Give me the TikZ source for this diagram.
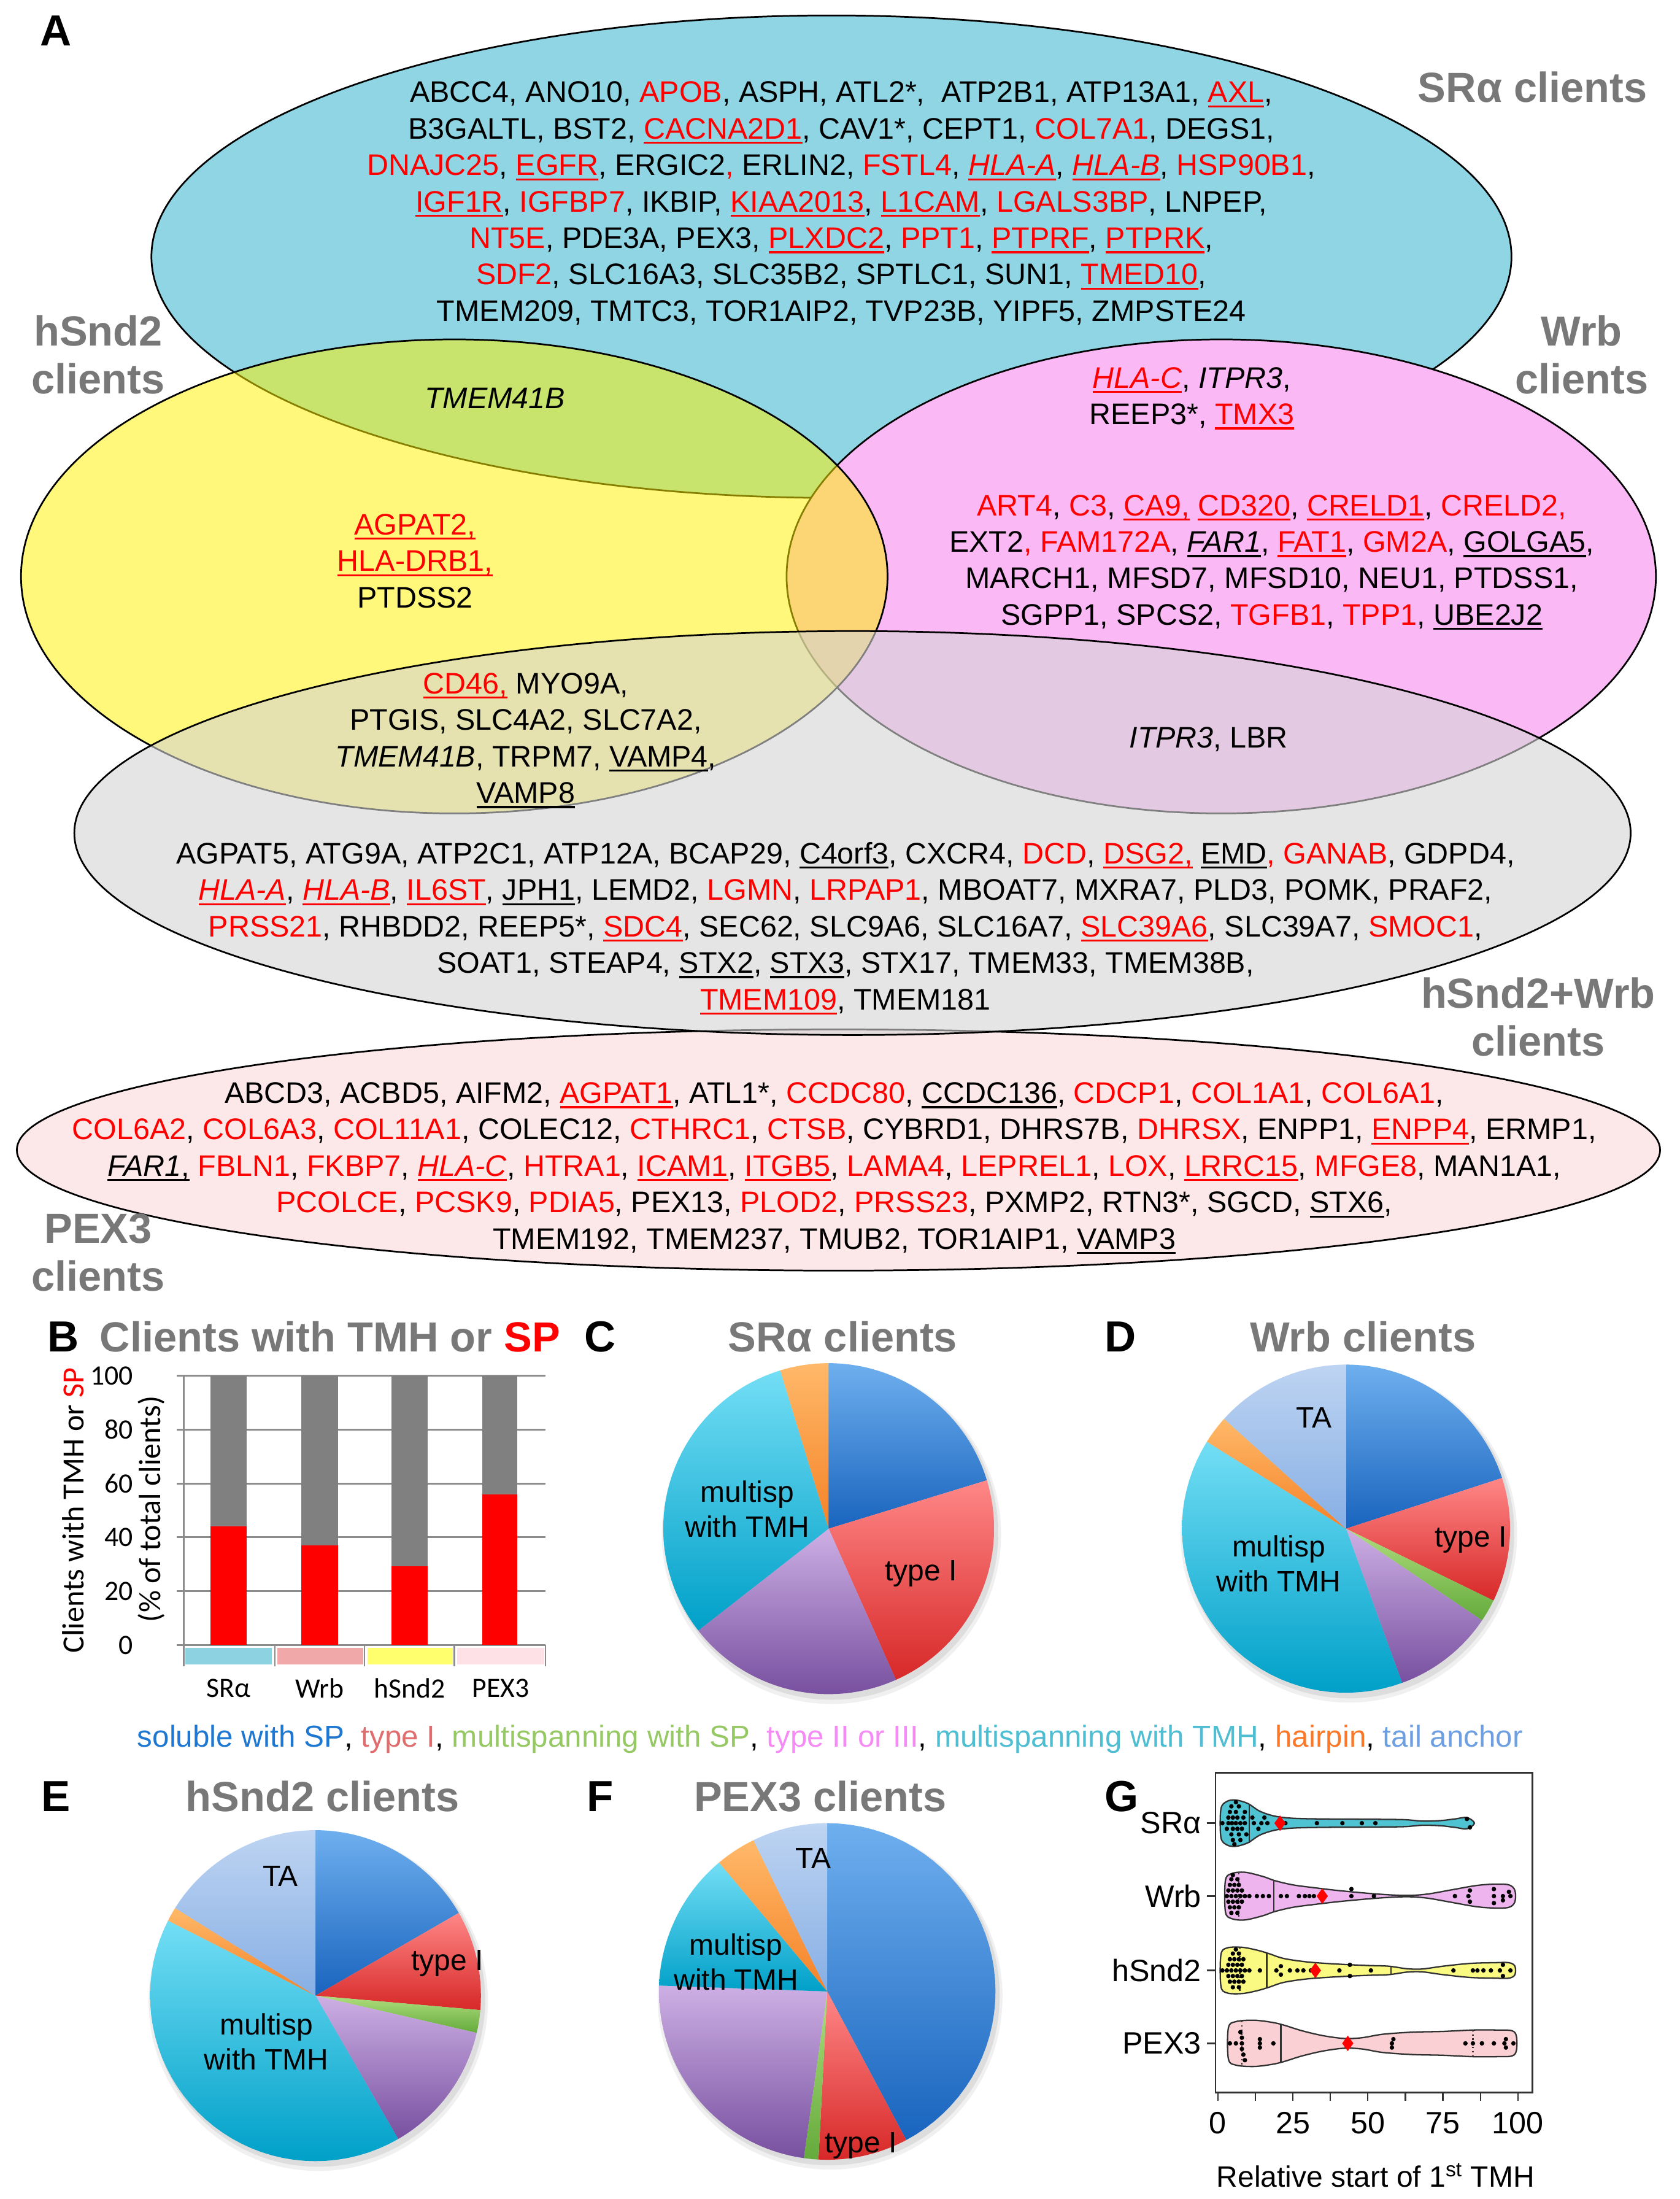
\documentclass[tikz,border=0pt]{standalone}
\usepackage{fontspec}
\setmainfont{Liberation Sans}
\newfontfamily\calfont{Carlito}
\usetikzlibrary{calc}

\definecolor{srblue}{RGB}{143,213,227}
\definecolor{wrbpink}{RGB}{250,185,245}
\definecolor{pexpink}{RGB}{253,232,233}
\definecolor{grayfill}{RGB}{212,212,212}
\definecolor{labgray}{RGB}{120,120,120}
\definecolor{gridgray}{RGB}{140,140,140}
\definecolor{bargray}{RGB}{128,128,128}
\definecolor{catcyan}{RGB}{140,210,225}
\definecolor{catsalmon}{RGB}{240,168,168}
\definecolor{catyellow}{RGB}{255,255,110}
\definecolor{catpink}{RGB}{253,225,230}
\definecolor{solL}{RGB}{110,175,238}\definecolor{solD}{RGB}{25,100,190}
\definecolor{t1L}{RGB}{255,135,135}\definecolor{t1D}{RGB}{215,40,40}
\definecolor{msL}{RGB}{175,222,125}\definecolor{msD}{RGB}{100,170,60}
\definecolor{t2L}{RGB}{205,175,228}\definecolor{t2D}{RGB}{120,80,160}
\definecolor{tmL}{RGB}{115,222,245}\definecolor{tmD}{RGB}{0,160,200}
\definecolor{hpL}{RGB}{255,185,105}\definecolor{hpD}{RGB}{245,130,40}
\definecolor{taL}{RGB}{190,212,242}\definecolor{taD}{RGB}{135,175,228}
\definecolor{legblue}{RGB}{30,120,210}
\definecolor{legred}{RGB}{225,110,110}
\definecolor{leggreen}{RGB}{150,200,100}
\definecolor{legpink}{RGB}{245,140,245}
\definecolor{legcyan}{RGB}{80,190,210}
\definecolor{legorange}{RGB}{250,120,40}
\definecolor{legta}{RGB}{110,160,225}
\definecolor{vsr}{RGB}{80,195,210}
\definecolor{vwrb}{RGB}{238,180,238}
\definecolor{vhs}{RGB}{250,250,130}
\definecolor{vpex}{RGB}{250,208,212}
\definecolor{vline}{RGB}{50,50,50}

\newsavebox{\ulbox}
\newcommand\myul[1]{\sbox\ulbox{#1}\rlap{\rule[-3.5pt]{\wd\ulbox}{1.4pt}}\usebox\ulbox}
\newcommand\rd[1]{{\color{red}#1}}
\newcommand\ru[1]{{\color{red}\myul{#1}}}
\newcommand\bu[1]{\myul{#1}}
\newcommand\ri[1]{{\color{red}\myul{\textit{#1}}}}
% cx, cy, r, a1, a2, light, dark
\newcommand\pieslice[7]{%
  \shade[top color=#6, bottom color=#7] (#1,#2) -- plot[domain=#4:#5, samples=40, variable=\t] ({#1+#3*sin(\t)},{#2-#3*cos(\t)}) -- cycle;}
\newcommand\pieshadow[3]{%
  \fill[black, opacity=0.06] (#1+2,#2+4) circle[radius=#3+3];
  \fill[black, opacity=0.08] (#1+2,#2+3) circle[radius=#3+1];}
\newcommand\diam[1]{\fill[red] (#1,0) +(-4pt,0) -- +(0,5.5pt) -- +(4pt,0) -- +(0,-5.5pt) -- cycle;}

\tikzset{
  genes/.style={font=\fontsize{21.2}{26}\selectfont, align=center, inner sep=0pt},
  vennlab/.style={font=\bfseries\fontsize{30}{34}\selectfont, text=labgray, align=center, inner sep=0pt},
  panlab/.style={font=\bfseries\fontsize{31}{36}\selectfont, inner sep=0pt},
  pietxt/.style={font=\fontsize{21}{25}\selectfont, align=center, inner sep=0pt},
  vennline/.style={draw=black, line width=1.2pt},
  calib/.style={font=\calfont\fontsize{20}{24}\selectfont, inner sep=0pt},
  vout/.style={draw=vline, line width=1pt},
  gtxt/.style={font=\fontsize{22}{26}\selectfont, inner sep=0pt}
}

\begin{document}
\begin{tikzpicture}[x=1pt, y=-1pt]
\useasboundingbox (0,0) rectangle (1198,1568);
\fill[white] (0,0) rectangle (1198,1568);

%%%%%%%%%%%%%%%% PANEL A : Venn %%%%%%%%%%%%%%%%
\fill[srblue] (593,183) ellipse [x radius=485, y radius=172];
\draw[vennline] (593,183) ellipse [x radius=485, y radius=172];
\fill[wrbpink] (871,411) ellipse [x radius=310, y radius=169];
\draw[vennline] (871,411) ellipse [x radius=310, y radius=169];
\fill[yellow, opacity=0.52] (324,411) ellipse [x radius=309, y radius=169];
\draw[vennline] (324,411) ellipse [x radius=309, y radius=169];
\fill[pexpink] (598,820) ellipse [x radius=586, y radius=86];
\draw[vennline] (598,820) ellipse [x radius=586, y radius=86];
\fill[grayfill, opacity=0.6] (608,594) ellipse [x radius=555, y radius=144];
\draw[vennline] (608,594) ellipse [x radius=555, y radius=144];

\node[panlab] (labA) at (40,22) {A};
\node[vennlab] (lsr) at (1093,62) {SRα clients};
\node[vennlab] (lhs) at (70,253) {hSnd2\\clients};
\node[vennlab] (lwrb) at (1128,253) {Wrb\\clients};
\node[vennlab] (lhw) at (1097,725) {hSnd2+Wrb\\clients};
\node[vennlab] (lpex) at (70,893) {PEX3\\clients};

\node[genes] (srtxt) at (600,145) {ABCC4, ANO10, \rd{APOB}, ASPH, ATL2*,\ \ ATP2B1, ATP13A1, \ru{AXL},\\
B3GALTL, BST2, \ru{CACNA2D1}, CAV1*, CEPT1, \rd{COL7A1}, DEGS1,\\
\rd{DNAJC25}, \ru{EGFR}, ERGIC2\rd{,} ERLIN2, \rd{FSTL4}, \ri{HLA-A}, \ri{HLA-B}, \rd{HSP90B1},\\
\ru{IGF1R}, \rd{IGFBP7}, IKBIP, \ru{KIAA2013}, \ru{L1CAM}, \rd{LGALS3BP}, LNPEP,\\
\rd{NT5E}, PDE3A, PEX3, \ru{PLXDC2}, \rd{PPT1}, \ru{PTPRF}, \ru{PTPRK},\\
\rd{SDF2}, SLC16A3, SLC35B2, SPTLC1, SUN1, \ru{TMED10},\\
TMEM209, TMTC3, TOR1AIP2, TVP23B, YIPF5, ZMPSTE24};

\node[genes] (tmem) at (353,284) {\textit{TMEM41B}};
\node[genes] (hstxt) at (296,400) {\ru{AGPAT2,}\\ \ru{HLA-DRB1,}\\ PTDSS2};
\node[genes] (wrbtop) at (850,284) {\ri{HLA-C}, \textit{ITPR3},\\ REEP3*, \ru{TMX3}};
\node[genes] (wrbtxt) at (907,401) {\rd{ART4}, \rd{C3}, \ru{CA9,} \ru{CD320}, \ru{CRELD1}, \rd{CRELD2,}\\
EXT2\rd{,} \rd{FAM172A}, \bu{\textit{FAR1}}, \ru{FAT1}, \rd{GM2A}, \bu{GOLGA5},\\
MARCH1, MFSD7, MFSD10, NEU1, PTDSS1,\\
SGPP1, SPCS2, \rd{TGFB1}, \rd{TPP1}, \bu{UBE2J2}};
\node[genes] (hgtxt) at (375,528) {\ru{CD46,} MYO9A,\\ PTGIS, SLC4A2, SLC7A2,\\ \textit{TMEM41B}, TRPM7, \bu{VAMP4},\\ \bu{VAMP8}};
\node[genes] (wgtxt) at (862,527) {\textit{ITPR3}, LBR};
\node[genes] (graytxt) at (603,662) {AGPAT5, ATG9A, ATP2C1, ATP12A, BCAP29, \bu{C4orf3}, CXCR4, \rd{DCD}, \ru{DSG2,} \bu{EMD}\rd{,} \rd{GANAB}, GDPD4,\\
\ri{HLA-A}, \ri{HLA-B}, \ru{IL6ST}, \bu{JPH1}, LEMD2, \rd{LGMN}, \rd{LRPAP1}, MBOAT7, MXRA7, PLD3, POMK, PRAF2,\\
\rd{PRSS21}, RHBDD2, REEP5*, \ru{SDC4}, SEC62, SLC9A6, SLC16A7, \ru{SLC39A6}, SLC39A7, \rd{SMOC1},\\
SOAT1, STEAP4, \bu{STX2}, \bu{STX3}, STX17, TMEM33, TMEM38B,\\
\ru{TMEM109}, TMEM181};
\node[genes] (pextxt) at (595,833) {ABCD3, ACBD5, AIFM2, \ru{AGPAT1}, ATL1*, \rd{CCDC80}, \bu{CCDC136}, \rd{CDCP1}, \rd{COL1A1}, \rd{COL6A1},\\
\rd{COL6A2}, \rd{COL6A3}, \rd{COL11A1}, COLEC12, \rd{CTHRC1}, \rd{CTSB}, CYBRD1, DHRS7B, \rd{DHRSX}, ENPP1, \ru{ENPP4}, ERMP1,\\
\bu{\textit{FAR1},} \rd{FBLN1}, \rd{FKBP7}, \ri{HLA-C}, \rd{HTRA1}, \ru{ICAM1}, \ru{ITGB5}, \rd{LAMA4}, \rd{LEPREL1}, \rd{LOX}, \ru{LRRC15}, \rd{MFGE8}, MAN1A1,\\
\rd{PCOLCE}, \rd{PCSK9}, \rd{PDIA5}, PEX13, \rd{PLOD2}, \rd{PRSS23}, PXMP2, RTN3*, SGCD, \bu{STX6},\\
TMEM192, TMEM237, TMUB2, TOR1AIP1, \bu{VAMP3}};

%%%%%%%%%%%%%%%% PANEL B : bars %%%%%%%%%%%%%%%%
\node[panlab] (labB) at (45,953) {B};
\node[vennlab, anchor=west] (titB) at (71,953) {Clients with TMH or \textcolor{red}{SP}};
\foreach \v in {0,20,...,100} {
  \draw[gridgray, line width=1.3pt] (126,{1173-1.92*\v}) -- (389,{1173-1.92*\v});
  \node[calib, anchor=east] (yt\v) at (95,{1173-1.92*\v}) {\v};
}
\draw[gridgray, line width=1.2pt] (131,981) -- (131,1188);
\foreach \x in {196,260,324,389} \draw[gridgray, line width=1.2pt] (\x,1173) -- (\x,1188);
\foreach \xa/\xb/\h in {150/176/44.2, 215/241/37.0, 279/305/29.2, 344/369/56.0} {
  \fill[red] (\xa,1173) rectangle (\xb,{1173-1.92*\h});
  \fill[bargray] (\xa,{1173-1.92*\h}) rectangle (\xb,981);
}
\fill[catcyan] (132,1175) rectangle (194,1187);
\fill[catsalmon] (198,1175) rectangle (259,1187);
\fill[catyellow] (262,1175) rectangle (323,1187);
\fill[catpink] (326,1175) rectangle (388,1187);
\node[calib] (cb1) at (163,1204) {SRα};
\node[calib] (cb2) at (228,1204) {Wrb};
\node[calib] (cb3) at (292,1204) {hSnd2};
\node[calib] (cb4) at (357,1204) {PEX3};
\node[font=\calfont\fontsize{22}{26}\selectfont, inner sep=0pt, rotate=90] (yl1) at (52,1077) {Clients with TMH or \textcolor{red}{SP}};
\node[font=\calfont\fontsize{22}{26}\selectfont, inner sep=0pt, rotate=90] (yl2) at (108,1076) {(\% of total clients)};

%%%%%%%%%%%%%%%% PIES %%%%%%%%%%%%%%%%
% C
\node[panlab] (labC) at (428,953) {C};
\node[vennlab] (titC) at (601,953) {SRα clients};
\pieshadow{591}{1090}{118}
\pieslice{591}{1090}{118}{0}{73}{solL}{solD}
\pieslice{591}{1090}{118}{73}{156}{t1L}{t1D}
\pieslice{591}{1090}{118}{156}{232}{t2L}{t2D}
\pieslice{591}{1090}{118}{232}{343}{tmL}{tmD}
\pieslice{591}{1090}{118}{343}{360}{hpL}{hpD}
\node[pietxt] (cTM) at (533,1076) {multisp\\with TMH};
\node[pietxt] (cT1) at (657,1122) {type I};
% D
\node[panlab] (labD) at (799,953) {D};
\node[vennlab] (titD) at (972,953) {Wrb clients};
\pieshadow{960}{1090}{117}
\pieslice{960}{1090}{117}{0}{72}{solL}{solD}
\pieslice{960}{1090}{117}{72}{116}{t1L}{t1D}
\pieslice{960}{1090}{117}{116}{124}{msL}{msD}
\pieslice{960}{1090}{117}{124}{160}{t2L}{t2D}
\pieslice{960}{1090}{117}{160}{302}{tmL}{tmD}
\pieslice{960}{1090}{117}{302}{312}{hpL}{hpD}
\pieslice{960}{1090}{117}{312}{360}{taL}{taD}
\node[pietxt] (dTA) at (937,1011) {TA};
\node[pietxt] (dTM) at (912,1115) {multisp\\with TMH};
\node[pietxt] (dT1) at (1049,1098) {type I};
% legend
\node[font=\fontsize{21.6}{25}\selectfont, inner sep=0pt] (legend) at (592,1240) {\textcolor{legblue}{soluble with SP}, \textcolor{legred}{type I}, \textcolor{leggreen}{multispanning with SP}, \textcolor{legpink}{type II or III}, \textcolor{legcyan}{multispanning with TMH}, \textcolor{legorange}{hairpin}, \textcolor{legta}{tail anchor}};
% E
\node[panlab] (labE) at (40,1281) {E};
\node[vennlab] (titE) at (230,1281) {hSnd2 clients};
\pieshadow{225}{1423}{118}
\pieslice{225}{1423}{118}{0}{60}{solL}{solD}
\pieslice{225}{1423}{118}{60}{95}{t1L}{t1D}
\pieslice{225}{1423}{118}{95}{103}{msL}{msD}
\pieslice{225}{1423}{118}{103}{150}{t2L}{t2D}
\pieslice{225}{1423}{118}{150}{297}{tmL}{tmD}
\pieslice{225}{1423}{118}{297}{302}{hpL}{hpD}
\pieslice{225}{1423}{118}{302}{360}{taL}{taD}
\node[pietxt] (eTA) at (200,1338) {TA};
\node[pietxt] (eTM) at (190,1456) {multisp\\with TMH};
\node[pietxt] (eT1) at (319,1400) {type I};
% F
\node[panlab] (labF) at (428,1281) {F};
\node[vennlab] (titF) at (585,1281) {PEX3 clients};
\pieshadow{590}{1420}{120}
\pieslice{590}{1420}{120}{0}{152}{solL}{solD}
\pieslice{590}{1420}{120}{152}{183}{t1L}{t1D}
\pieslice{590}{1420}{120}{183}{188}{msL}{msD}
\pieslice{590}{1420}{120}{188}{272}{t2L}{t2D}
\pieslice{590}{1420}{120}{272}{320}{tmL}{tmD}
\pieslice{590}{1420}{120}{320}{334}{hpL}{hpD}
\pieslice{590}{1420}{120}{334}{360}{taL}{taD}
\node[pietxt] (fTA) at (580,1325) {TA};
\node[pietxt] (fTM) at (525,1399) {multisp\\with TMH};
\node[pietxt] (fT1) at (614,1530) {type I};

%%%%%%%%%%%%%%%% PANEL G : violins %%%%%%%%%%%%%%%%
\node[panlab] (labG) at (800,1281) {G};
\draw[vout] (867,1264) rectangle (1093,1492);
\foreach \r in {1300,1352,1405,1457} \draw[vout] (861,\r) -- (867,\r);
\node[gtxt, anchor=east] (gsr) at (857,1300) {SRα};
\node[gtxt, anchor=east] (gwrb) at (857,1352) {Wrb};
\node[gtxt, anchor=east] (ghs) at (857,1405) {hSnd2};
\node[gtxt, anchor=east] (gpex) at (857,1457) {PEX3};
\begin{scope}[shift={(868.6,0)}, x=2.14pt]
  \foreach \v in {0,12.5,...,100} \draw[vout] (\v,1492) -- (\v,1498);
  \foreach \v in {0,25,50,75,100} \node[gtxt] (gx\v) at (\v,1514) {\v};
\end{scope}
\node[font=\fontsize{21}{25}\selectfont, inner sep=0pt] (gxl) at (981,1551) {Relative start of 1\textsuperscript{st} TMH};

% SRalpha violin
\begin{scope}[shift={(868.6,1300)}, x=2.14pt]
  \filldraw[fill=vsr, vout] plot[smooth cycle, tension=0.55] coordinates {(1,-10) (3,-15.5) (6,-16.5) (10,-14) (14,-8.5) (19,-5) (25,-3.5) (35,-3) (50,-2.8) (62,-2.5) (68,-1.5) (74,-1.8) (79,-3) (83,-4) (85.5,0) (83,4) (79,3) (74,1.8) (68,1.5) (62,2.5) (50,2.8) (35,3) (25,3.5) (19,5) (14,8.5) (10,14) (6,16.5) (3,15.5) (1,10)};
  \draw[vout] (10.4,-14) -- (10.4,14);
  \foreach \v/\d in {1.5/0,3.5/0,4.7/0,6/0,7.5/0,9/0,12/0,14.5/0,16.5/0,22.5/0,33/0,41.5/0,48/0,52.5/0,
     3.5/-4,5/-4,6.5/-4,8.5/-4,11.5/-4,15.5/-4,3/4,5/4,6.5/4,8/4,13.5/4,
     4/-8,6/-8,9/-8,4.5/8,7/8,9.5/8,4.5/-12,7/-12,5/12,7.5/12,6/-15,5.5/15,83/-3,84/3}
     \fill (\v,\d) circle[radius=1.6pt];
  \diam{20.7}
\end{scope}
% Wrb violin
\begin{scope}[shift={(868.6,1352)}, x=2.14pt]
  \filldraw[fill=vwrb, vout] plot[smooth cycle, tension=0.55] coordinates {(2.5,-11) (4.5,-16) (9,-17) (15,-14) (19,-11) (25,-8) (32,-6) (40,-4) (50,-2) (58,-0.8) (64,-0.5) (70,-1.5) (78,-4.5) (86,-7.5) (92,-8.5) (97,-8) (99,-4) (99,4) (97,8) (92,8.5) (86,7.5) (78,4.5) (70,1.5) (64,0.5) (58,0.8) (50,2) (40,4) (32,6) (25,8) (19,11) (15,14) (9,17) (4.5,16) (2.5,11)};
  \draw[vout, dotted] (7,-16.5) -- (7,16.5);
  \draw[vout] (18.7,-11.5) -- (18.7,11.5);
  \draw[vout] (52,-2) -- (52,2);
  \foreach \v/\d in {3/0,4.5/0,6/0,7.5/0,9/0,10.5/0,13/0,15/0,17/0,21/0,23/0,27/0,29/0,30.5/0,32/0,44.5/0,52/0,79/0,83.5/0,92/0,95/0,97.5/0,
     3.5/-4,5/-4,6.5/-4,8/-4,3.5/4,5/4,6.5/4,8/4,4/-8,5.5/-8,7/-8,4/8,5.5/8,7/8,4.5/-12,6.5/-12,4.5/12,6.5/12,5/-15,
     44.5/-5,84/-4,84/4,92/-5,92/5,97/-3,95/3}
     \fill (\v,\d) circle[radius=1.6pt];
  \diam{34.8}
\end{scope}
% hSnd2 violin
\begin{scope}[shift={(868.6,1405)}, x=2.14pt]
  \filldraw[fill=vhs, vout] plot[smooth cycle, tension=0.55] coordinates {(1,-11) (3,-16) (8,-16.5) (13,-14.5) (17,-12) (22,-8.5) (30,-6) (40,-4.5) (50,-3.5) (57,-3) (63,-1.2) (68,-1) (75,-3) (84,-5) (92,-5.5) (97,-5.5) (99,-3) (99,3) (97,5.5) (92,5.5) (84,5) (75,3) (68,1) (63,1.2) (57,3) (50,3.5) (40,4.5) (30,6) (22,8.5) (17,12) (13,14.5) (8,16.5) (3,16) (1,11)};
  \draw[vout, dotted] (7.3,-16.5) -- (7.3,16.5);
  \draw[vout] (16.3,-12.3) -- (16.3,12.3);
  \draw[vout] (57.7,-3) -- (57.7,3);
  \foreach \v/\d in {1.5/0,3/0,4.5/0,6/0,7.5/0,9/0,10.5/0,14/0,19.5/0,24/0,26.5/0,28.5/0,31/0,40.5/0,51/0,78.5/0,85/0,86.5/0,88.5/0,91/0,94/0,97.5/0,
     3.5/-4,5/-4,6.5/-4,8/-4,3.5/4,5/4,6.5/4,8/4,4/-8,5.5/-8,7/-8,8.5/-8,4/8,5.5/8,7/8,8.5/8,5/-12,7/-12,5/12,7/12,6/-15,
     21/-3,21/3,44/-4,44/4,95/-4,95/4}
     \fill (\v,\d) circle[radius=1.6pt];
  \diam{32.5}
\end{scope}
% PEX3 violin
\begin{scope}[shift={(868.6,1457)}, x=2.14pt]
  \filldraw[fill=vpex, vout] plot[smooth cycle, tension=0.55] coordinates {(3.5,-11) (6,-15.5) (12,-16.5) (18,-15) (22,-13) (28,-9) (35,-5.5) (42,-3.5) (48,-4) (55,-6.5) (65,-8) (75,-8.5) (85,-9.5) (93,-9.5) (98,-9) (99.5,-5) (99.5,5) (98,9) (93,9.5) (85,9.5) (75,8.5) (65,8) (55,6.5) (48,4) (42,3.5) (35,5.5) (28,9) (22,13) (18,15) (12,16.5) (6,15.5) (3.5,11)};
  \draw[vout, dotted] (8,-16) -- (8,16);
  \draw[vout, dotted] (85,-9.5) -- (85,9.5);
  \draw[vout] (21,-13.5) -- (21,13.5);
  \foreach \v/\d in {4/0,6/0,8/0,14/0,18.5/0,58/0,82.5/0,85/0,88/0,92/0,95.5/0,98.5/0,
     8/-4,8/4,7.5/-8,8.5/8,9/12,14/-3,14/3,58.5/-3,58/3,96/-3,96/3}
     \fill (\v,\d) circle[radius=1.6pt];
  \diam{43.3}
\end{scope}

\end{tikzpicture}
\end{document}
